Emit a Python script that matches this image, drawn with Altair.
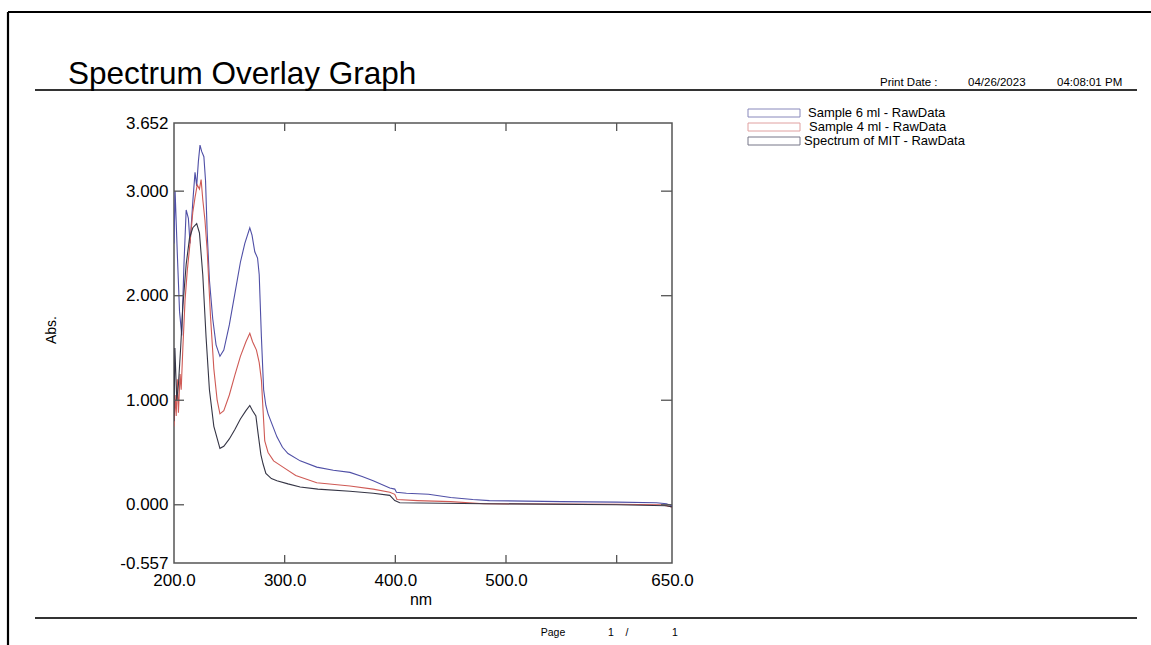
import altair as alt
import pandas as pd

# ---- data ----
series_names = ["Sample  6 ml - RawData", "Sample 4 ml - RawData", "Spectrum of MIT - RawData"]
series_colors = ["#4f4fa6", "#cf5a55", "#353545"]

wl_6ml = [200, 201, 203, 205, 207, 209, 211, 213, 214.5, 217, 219, 220.5, 222, 223.5, 225, 227, 228.5,
          230, 232, 235, 238, 241.5, 245, 250, 255, 260, 264, 268.5, 270.5, 273, 275.5, 277, 279, 281,
          283, 285, 289, 293, 298, 303, 314, 329, 344, 359, 370, 380, 395, 399.5, 401, 410, 430, 450,
          470, 485, 550, 600, 636, 645, 650]
abs_6ml = [2.50, 3.00, 2.40, 1.85, 1.62, 2.30, 2.82, 2.74, 2.50, 2.90, 3.18, 3.05, 3.28, 3.44, 3.38, 3.33, 3.10,
           2.60, 2.15, 1.78, 1.53, 1.42, 1.48, 1.72, 2.02, 2.32, 2.50, 2.65, 2.58, 2.42, 2.36, 2.20, 1.60, 1.10,
           0.95, 0.87, 0.76, 0.65, 0.55, 0.49, 0.42, 0.36, 0.33, 0.31, 0.27, 0.23, 0.16, 0.15, 0.12, 0.11, 0.10, 0.07,
           0.05, 0.04, 0.03, 0.025, 0.02, 0.01, -0.01]

wl_4ml = [200, 201, 202, 203, 204, 205.5, 206.5, 208, 210, 212, 214, 217, 219, 221, 223, 224.5, 226, 228,
          230, 233, 236, 239, 241.5, 245, 250, 255, 260, 265, 268.5, 271, 274.5, 277, 279, 282, 285, 290,
          298.5, 310, 329, 359, 380, 395, 399.5, 401.5, 420, 450, 480, 600, 640, 650]
abs_4ml = [0.75, 1.05, 0.85, 1.20, 0.88, 1.25, 1.10, 1.50, 1.96, 2.24, 2.45, 2.80, 2.94, 3.06, 3.02, 3.11, 2.92, 2.72,
           2.43, 1.80, 1.30, 1.00, 0.87, 0.90, 1.05, 1.24, 1.42, 1.56, 1.64, 1.56, 1.48, 1.36, 1.19, 0.61, 0.50, 0.42,
           0.36, 0.28, 0.21, 0.18, 0.15, 0.12, 0.10, 0.05, 0.04, 0.03, 0.01, 0.005, 0.0, -0.02]

wl_mit = [200, 200.8, 202.5, 204, 206, 208, 211, 214, 217, 220.5, 223, 226, 229, 232, 236, 241.5, 245, 250,
          255, 260, 265, 268.5, 271, 274, 276, 278.5, 280.5, 283, 288, 293, 303, 314, 330, 359, 380, 395,
          399.5, 404, 480, 600, 645, 650]
abs_mit = [0.80, 1.50, 1.00, 1.15, 1.50, 1.90, 2.30, 2.55, 2.65, 2.69, 2.60, 2.20, 1.60, 1.10, 0.75, 0.54, 0.56, 0.63,
           0.72, 0.82, 0.90, 0.95, 0.90, 0.85, 0.68, 0.48, 0.39, 0.30, 0.25, 0.23, 0.20, 0.17, 0.15, 0.13, 0.11, 0.09,
           0.04, 0.02, 0.01, 0.0, -0.01, -0.02]

x_label_values = [200, 300, 400, 500, 650]
x_tick_values = [300, 400, 500, 600]
y_label_values = [-0.557, 0, 1, 2, 3, 3.652]
y_tick_values = [0, 1, 2, 3]
x_domain = [200, 650]
y_domain = [-0.557, 3.652]

frames = []
for name, wl, ab in [(series_names[0], wl_6ml, abs_6ml), (series_names[1], wl_4ml, abs_4ml),
                     (series_names[2], wl_mit, abs_mit)]:
    frames.append(pd.DataFrame({"nm": wl, "abs": ab, "series": name, "idx": range(len(wl))}))
df = pd.concat(frames, ignore_index=True)

FONT = "Liberation Sans"
W, H = 498, 440
LEFT, TOP = 174, 123
FRAME = "#555555"

x_scale = alt.Scale(domain=x_domain, nice=False, zero=False)
y_scale = alt.Scale(domain=y_domain, nice=False, zero=False)

x_axis = alt.Axis(values=x_label_values, labelExpr="format(datum.value, '.1f')",
                  ticks=False, domain=False, grid=False, title=None,
                  labelFontSize=17, labelFont=FONT, labelColor="black",
                  labelPadding=9, labelFlush=False, labelOverlap=False)
y_axis = alt.Axis(values=y_label_values,
                  labelExpr="replace(format(datum.value, '.3f'), '\u2212', '-')",
                  ticks=False, domain=False, grid=False, title=None,
                  labelFontSize=17, labelFont=FONT, labelColor="black",
                  labelPadding=6, labelOverlap=False)

lines = alt.Chart(df).mark_line(strokeWidth=1.1, clip=True).encode(
    x=alt.X("nm:Q", scale=x_scale, axis=x_axis),
    y=alt.Y("abs:Q", scale=y_scale, axis=y_axis),
    color=alt.Color("series:N", scale=alt.Scale(domain=series_names, range=series_colors), legend=None),
    order="idx:Q",
)

xt = pd.DataFrame({"t": x_tick_values})
yt = pd.DataFrame({"t": y_tick_values})
tick_x = alt.X("t:Q", scale=x_scale, axis=x_axis)
tick_y = alt.Y("t:Q", scale=y_scale, axis=y_axis)
bottom_ticks = alt.Chart(xt).mark_rule(color=FRAME, strokeWidth=1.3).encode(
    x=tick_x, y=alt.value(H), y2=alt.value(H - 8))
top_ticks = alt.Chart(xt).mark_rule(color=FRAME, strokeWidth=1.3).encode(
    x=tick_x, y=alt.value(0), y2=alt.value(8))
left_ticks = alt.Chart(yt).mark_rule(color=FRAME, strokeWidth=1.3).encode(
    y=tick_y, x=alt.value(0), x2=alt.value(10))
right_ticks = alt.Chart(yt).mark_rule(color=FRAME, strokeWidth=1.3).encode(
    y=tick_y, x=alt.value(W), x2=alt.value(W - 11))

one = pd.DataFrame({"a": [0]})


def text(s, px, py, size, align="left", baseline="alphabetic", angle=0):
    return alt.Chart(one).mark_text(text=s, font=FONT, fontSize=size, align=align,
                                    baseline=baseline, angle=angle, color="black").encode(
        x=alt.value(px - LEFT), y=alt.value(py - TOP))


def hline(x1, x2, py, width, color="black"):
    return alt.Chart(one).mark_rule(color=color, strokeWidth=width).encode(
        x=alt.value(x1 - LEFT), x2=alt.value(x2 - LEFT), y=alt.value(py - TOP))


def vline(px, y1, y2, width, color="black"):
    return alt.Chart(one).mark_rule(color=color, strokeWidth=width).encode(
        x=alt.value(px - LEFT), y=alt.value(y1 - TOP), y2=alt.value(y2 - TOP))


deco = [
    hline(8, 1151, 12, 2.2),
    vline(8, 12, 645, 2.2),
    hline(35, 1137, 90, 2, "#333333"),
    hline(35, 1137, 618, 2, "#333333"),
    text("Spectrum Overlay Graph", 68, 84, 31.5),
    text("Print Date :", 880, 86, 11.5),
    text("04/26/2023", 968, 86, 11.5),
    text("04:08:01 PM", 1057, 86, 11.5),
    text("Abs.", 52, 330, 14, align="center", baseline="middle", angle=270),
    text("nm", 421, 600, 16, align="center", baseline="middle"),
    text("Page", 553, 633, 10.5, align="center", baseline="middle"),
    text("1", 611, 633, 10.5, align="center", baseline="middle"),
    text("/", 627, 633, 10.5, align="center", baseline="middle"),
    text("1", 675, 633, 10.5, align="center", baseline="middle"),
]

legend_rows = [113, 127, 141]
legend_x = [808, 809, 804]
legend_stroke = ["#8888bb", "#e0a0a0", "#777788"]
for name, col, cy, lx in zip(series_names, legend_stroke, legend_rows, legend_x):
    deco.append(alt.Chart(one).mark_rect(fill="white", stroke=col, strokeWidth=1).encode(
        x=alt.value(748 - LEFT), x2=alt.value(800 - LEFT),
        y=alt.value(cy - 4 - TOP), y2=alt.value(cy + 4 - TOP)))
    deco.append(text(name, lx, cy, 13, baseline="middle"))

chart = alt.layer(lines, bottom_ticks, top_ticks, left_ticks, right_ticks, *deco).properties(
    width=W, height=H,
    padding={"left": LEFT, "top": TOP, "right": 1151 - LEFT - W, "bottom": 645 - TOP - H},
    autosize=alt.AutoSizeParams(type="none"),
    background="white",
).configure_view(stroke=FRAME, strokeWidth=1.5)

chart.save("out.html", embed_options={"renderer": "svg", "actions": False})
